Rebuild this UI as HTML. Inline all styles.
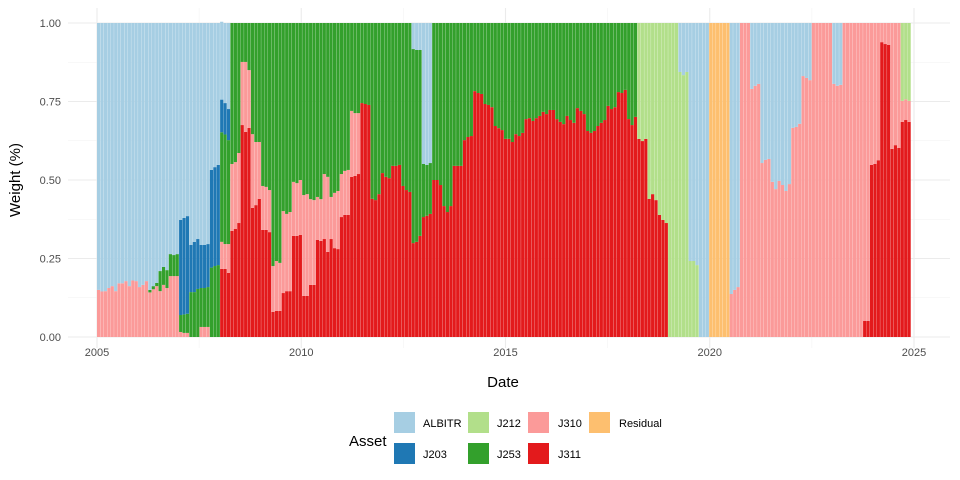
<!DOCTYPE html>
<html><head><meta charset="utf-8"><style>
html,body{margin:0;padding:0;background:#fff;}
svg{display:block;font-family:"Liberation Sans",sans-serif;}
</style></head><body>
<svg id="chart" width="960" height="480" viewBox="0 0 960 480" xmlns="http://www.w3.org/2000/svg">
<g id="grid"></g>
<g id="bars"></g>
<g id="axes"></g>
<text x="503" y="387" font-size="15" text-anchor="middle" fill="#000">Date</text>
<text transform="translate(20,180) rotate(-90)" font-size="15" text-anchor="middle" fill="#000">Weight (%)</text>
<g id="legend">
<text x="349" y="446" font-size="15" fill="#000">Asset</text>
</g>
</svg>
<script>
const Z = n => Array(n).fill(0);
const J311 = [...Z(36), .217,.217,.204,
.338,.344,.363,.675,.653,.666,.411,.42,.44,.341,.341,.334,.08,.083,.083,.14,.146,.146,.322,.322,.325,.131,.131,.166,.166,.309,.306,.312,.271,.312,.283,.28,.382,.389,.389,.51,.513,.519,.745,.742,.739,
.44,.436,.455,.522,.51,.506,.545,.545,.548,.481,.468,.462,
.299,.303,.322,.382,.386,.392,
.5,.5,.484,.417,.398,.417,.545,.545,.545,.627,.637,.64,.783,.777,.774,.742,.739,.732,.672,.665,.659,.631,.631,.621,.646,.64,.65,.694,.697,.688,.697,.704,.717,.71,.723,.723,.694,.685,.678,.704,.691,.682,.729,.72,.71,.656,.65,.656,.672,.682,.691,.736,.726,.732,.78,.777,.787,.694,.675,.701,
.631,.624,.631,.44,.455,.436,.389,.373,.363,
...Z(57),
.051,.051,.548,.551,.563,.939,.933,.93,.599,.611,.602,.685,.691,.685];
const J310 = [.15,.145,.146,.156,.162,.146,.171,.171,.178,.162,.18,.178,.159,.166,.178,
.142,.152,.162,.146,.166,.156,.194,.194,.194,
.016,.013,.013,0,0,0,.032,.032,.032,0,0,0,
.086,.079,.092,
.213,.213,.223,.201,.223,.184,.235,.201,.181,.14,.137,.134,.146,.159,.153,.261,.246,.252,.172,.168,.175,.321,.324,.273,.27,.137,.133,.207,.239,.134,.176,.185,.137,.14,.143,.21,.2,.194,0,0,0,
...Z(105),
.137,.15,.159,1,1,1,.79,.8,.806,.554,.564,.567,.494,.471,.497,.484,.465,.487,.666,.669,.679,.831,.825,.818,1,1,1,1,1,1,.806,.8,.803,1,1,1,1,1,1,.949,.949,.452,.449,.437,.061,.067,.07,.401,.389,.398,.067,.066,.067];
const J253 = [...Z(15),
.008,.01,.01,.064,.057,.057,.07,.067,.07,
.054,.059,.061,.143,.143,.153,.124,.124,.127,.221,.226,.229,
.349,.349,.331,
.449,.443,.414,.124,.124,.15,.354,.379,.379,.519,.522,.532,.774,.758,.764,.599,.608,.602,.506,.51,.5,.548,.545,.561,.564,.554,.561,.481,.49,.554,.541,.535,.481,.471,.468,.28,.287,.287,.255,.258,.261,
.56,.564,.545,.478,.49,.494,.455,.455,.452,.519,.532,.538,
.618,.611,.592,.169,.162,.162,
.5,.5,.516,.583,.602,.583,.455,.455,.455,.373,.363,.36,.217,.223,.226,.258,.261,.268,.328,.335,.341,.369,.369,.379,.354,.36,.35,.306,.303,.312,.303,.296,.283,.29,.277,.277,.306,.315,.322,.296,.309,.318,.271,.28,.29,.344,.35,.344,.328,.318,.309,.264,.274,.268,.22,.223,.213,.306,.325,.299,
...Z(80)];
const J212 = [...Z(158),
.369,.376,.369,.56,.545,.564,.611,.627,.637,
1,1,1,.844,.834,.844,.242,.242,.229,
...Z(59), .248,.243,.248];
const J203 = [...Z(24),
.303,.307,.311,.15,.16,.159,.137,.137,.137,.311,.315,.319,.104,.1,.099,
...Z(199)];
const ALBITR = [.85,.855,.854,.844,.838,.854,.829,.829,.822,.838,.82,.822,.841,.834,.822,
.85,.838,.828,.79,.777,.787,.736,.739,.736,
.627,.621,.615,.707,.697,.688,.707,.707,.704,.468,.459,.452,.248,.255,.274,
...Z(53),
.083,.086,.086,.449,.452,.446,
...Z(72),
.156,.166,.156,.758,.758,.771,1,1,1,
...Z(6),
.863,.85,.841,0,0,0,.21,.2,.194,.446,.436,.433,.506,.529,.503,.516,.535,.513,.334,.331,.321,.169,.175,.182,
...Z(6), .194,.2,.197, ...Z(20)];
const Residual = [...Z(179), 1,1,1,1,1,1, ...Z(53)];
const seriesNames = ["Residual","J311","J310","J253","J212","J203","ALBITR"];
const seriesColors = ["#FDBF6F","#E31A1C","#FB9A99","#33A02C","#B2DF8A","#1F78B4","#A6CEE3"];
const yTicks = [0, 0.25, 0.5, 0.75, 1];
const yTickLabels = ["0.00","0.25","0.50","0.75","1.00"];
const xTicks = [2005, 2010, 2015, 2020, 2025];
const startYear = 2005;

const NS = "http://www.w3.org/2000/svg";
const allSeries = [Residual, J311, J310, J253, J212, J203, ALBITR];
const n = J311.length;
const px0 = 68, px1 = 950, py0 = 337;
const xs = yr => 97 + (yr - 2005) * 40.85;
const ys = v => py0 - v * 314;
const step = 3.42;
const xb = i => 97 + i * step;
function mk(tag, attrs, parent){const e=document.createElementNS(NS,tag);for(const k in attrs)e.setAttribute(k,attrs[k]);parent.appendChild(e);return e;}
const grid=document.getElementById('grid'), bars=document.getElementById('bars'), axes=document.getElementById('axes'), legend=document.getElementById('legend');
for(let i=0;i<yTicks.length-1;i++){const v=(yTicks[i]+yTicks[i+1])/2;const l=mk('line',{x1:px0,x2:px1,y1:ys(v),y2:ys(v),stroke:'#f2f2f2','stroke-width':0.6},grid);

}
for(let i=0;i<xTicks.length-1;i++){const v=(xTicks[i]+xTicks[i+1])/2;const l=mk('line',{x1:xs(v),x2:xs(v),y1:8,y2:348,stroke:'#f2f2f2','stroke-width':0.6},grid);

}
yTicks.forEach((v,i)=>{const l=mk('line',{x1:px0,x2:px1,y1:ys(v),y2:ys(v),stroke:'#ebebeb','stroke-width':1.1},grid);


const t=mk('text',{x:61,y:ys(v)+4,'font-size':11,'text-anchor':'end',fill:'#4d4d4d'},axes);t.textContent=yTickLabels[i];

});
xTicks.forEach(v=>{const l=mk('line',{x1:xs(v),x2:xs(v),y1:8,y2:348,stroke:'#ebebeb','stroke-width':1.1},grid);


const t=mk('text',{x:xs(v),y:356,'font-size':11,'text-anchor':'middle',fill:'#4d4d4d'},axes);t.textContent=String(v);

});
for(let i=0;i<n;i++){
  let cum=0;
  const x = xb(i);
  allSeries.forEach((s,k)=>{const v=s[i]||0; if(v<=0) return;
    const r=mk('rect',{x:x.toFixed(2),y:ys(cum+v).toFixed(2),width:(step*0.93).toFixed(2),height:(v*314).toFixed(2),fill:seriesColors[k]},bars);
    
    
    cum+=v;});
}
const legendOrder=[["ALBITR",394,412,423],["J212",468,412,497],["J310",528,412,558],["Residual",589,412,619],["J203",394,443,423],["J253",468,443,497],["J311",528,443,558]];
legendOrder.forEach(([nm,kx,ky,tx])=>{const k=seriesNames.indexOf(nm);
const r=mk('rect',{x:kx,y:ky,width:21,height:21,fill:seriesColors[k]},legend);


const t=mk('text',{x:tx,y:ky+15,'font-size':11,fill:'#000'},legend);t.textContent=nm;

});
</script>
</body></html>
